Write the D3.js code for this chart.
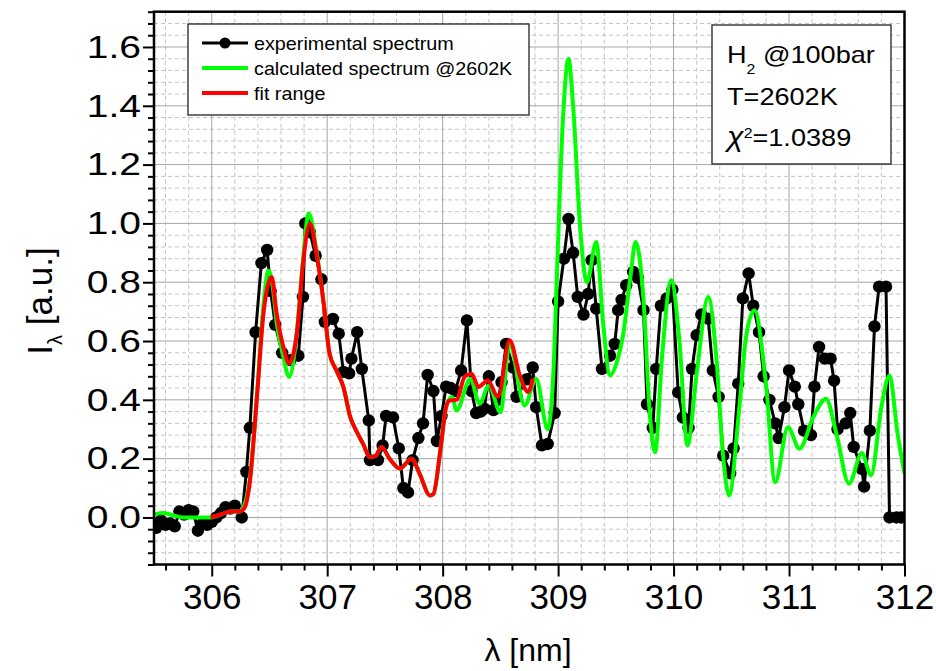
<!DOCTYPE html>
<html>
<head>
<meta charset="utf-8">
<script src="https://cdn.jsdelivr.net/npm/d3@7"></script>
<style>
body { margin: 0; background: #fff; }
text { font-family: "Liberation Sans", Arial, sans-serif; fill: #000; }
.narrow { font-family: "Liberation Sans Narrow", "Liberation Sans", Arial, sans-serif; }
</style>
</head>
<body>
<svg id="chart" width="936" height="671"></svg>
<script>
// experimental spectrum (black dots)
const expX = [305.52, 305.56, 305.60, 305.64, 305.68, 305.72, 305.76, 305.80, 305.84, 305.88,
    305.92, 305.96, 306.00, 306.04, 306.08, 306.12, 306.16, 306.20, 306.26, 306.30,
    306.33, 306.38, 306.43, 306.48, 306.51, 306.55, 306.61, 306.68, 306.75, 306.79,
    306.81, 306.85, 306.90, 306.95, 306.98, 307.05, 307.10, 307.14, 307.19, 307.21,
    307.26, 307.30, 307.36, 307.37, 307.44, 307.48, 307.51, 307.57, 307.62, 307.66,
    307.70, 307.74, 307.79, 307.83, 307.87, 307.92, 307.95, 307.99, 308.03, 308.07,
    308.11, 308.16, 308.21, 308.25, 308.29, 308.33, 308.36, 308.40, 308.44, 308.48,
    308.51, 308.55, 308.61, 308.64, 308.73, 308.78, 308.81, 308.86, 308.91, 308.97,
    309.00, 309.05, 309.09, 309.13, 309.17, 309.22, 309.26, 309.29, 309.33, 309.38,
    309.45, 309.49, 309.52, 309.55, 309.59, 309.65, 309.69, 309.74, 309.77, 309.82,
    309.85, 309.89, 309.94, 309.99, 310.04, 310.08, 310.13, 310.16, 310.20, 310.24,
    310.30, 310.34, 310.39, 310.43, 310.49, 310.52, 310.56, 310.60, 310.65, 310.69,
    310.74, 310.78, 310.83, 310.88, 310.91, 310.96, 311.00, 311.05, 311.08, 311.13,
    311.19, 311.22, 311.26, 311.31, 311.36, 311.39, 311.42, 311.49, 311.53, 311.56,
    311.63, 311.65, 311.70, 311.74, 311.78, 311.84, 311.87, 311.93, 311.97];
const expY = [-0.035, -0.01, -0.025, -0.02, -0.03, 0.02, 0.01, 0.025, 0.02, -0.045,
    -0.02, -0.025, -0.015, 0.0, 0.015, 0.035, 0.03, 0.04, 0.0, 0.155,
    0.305, 0.63, 0.865, 0.91, 0.77, 0.655, 0.56, 0.535, 0.55, 0.75,
    1.0, 0.97, 0.89, 0.81, 0.665, 0.675, 0.625, 0.495, 0.49, 0.54,
    0.63, 0.505, 0.33, 0.195, 0.195, 0.245, 0.345, 0.34, 0.235, 0.10,
    0.085, 0.195, 0.27, 0.32, 0.485, 0.43, 0.26, 0.345, 0.445, 0.44,
    0.43, 0.50, 0.67, 0.43, 0.355, 0.36, 0.37, 0.48, 0.365, 0.40,
    0.46, 0.59, 0.51, 0.41, 0.47, 0.51, 0.375, 0.245, 0.25, 0.355,
    0.735, 0.88, 1.015, 0.90, 0.75, 0.69, 0.76, 0.875, 0.71, 0.505,
    0.55, 0.59, 0.705, 0.74, 0.79, 0.835, 0.815, 0.705, 0.385, 0.305,
    0.505, 0.72, 0.745, 0.775, 0.425, 0.34, 0.305, 0.505, 0.62, 0.69,
    0.676, 0.50, 0.41, 0.21, 0.15, 0.235, 0.455, 0.745, 0.83, 0.72,
    0.63, 0.48, 0.40, 0.32, 0.27, 0.375, 0.50, 0.445, 0.385, 0.295,
    0.28, 0.445, 0.58, 0.54, 0.54, 0.465, 0.30, 0.32, 0.355, 0.24,
    0.165, 0.105, 0.295, 0.65, 0.785, 0.785, 0.0, 0.0, 0.0];

// calculated spectrum @2602K (green)
const calcX = [305.50, 305.58, 305.66, 305.75, 305.85, 305.98, 306.08, 306.16, 306.24, 306.28,
    306.33, 306.39, 306.45, 306.49, 306.53, 306.56, 306.62, 306.67, 306.74, 306.79,
    306.84, 306.91, 306.97, 307.02, 307.08, 307.14, 307.20, 307.25, 307.31, 307.37,
    307.42, 307.47, 307.54, 307.63, 307.73, 307.80, 307.89, 307.92, 307.98, 308.03,
    308.08, 308.12, 308.24, 308.32, 308.40, 308.50, 308.58, 308.71, 308.81, 308.91,
    308.96, 308.99, 309.04, 309.09, 309.13, 309.19, 309.25, 309.33, 309.39, 309.45,
    309.51, 309.56, 309.63, 309.67, 309.74, 309.79, 309.84, 309.90, 309.98, 310.05,
    310.12, 310.20, 310.30, 310.37, 310.43, 310.48, 310.57, 310.63, 310.70, 310.80,
    310.88, 310.99, 311.09, 311.21, 311.32, 311.41, 311.52, 311.63, 311.71, 311.80,
    311.87, 311.94, 312.00];
const calcY = [0.01, 0.015, 0.008, 0.0, 0.0, 0.0, 0.01, 0.02, 0.02, 0.04,
    0.13, 0.41, 0.73, 0.84, 0.78, 0.67, 0.546, 0.478, 0.64, 0.875,
    1.034, 0.90, 0.727, 0.558, 0.50, 0.444, 0.341, 0.296, 0.251, 0.205,
    0.21, 0.24, 0.20, 0.166, 0.20, 0.149, 0.075, 0.08, 0.228, 0.376,
    0.41, 0.364, 0.472, 0.387, 0.449, 0.358, 0.59, 0.381, 0.472, 0.30,
    0.50, 0.83, 1.34, 1.56, 1.40, 0.99, 0.80, 0.937, 0.66, 0.483,
    0.53, 0.614, 0.83, 0.937, 0.739, 0.376, 0.222, 0.546, 0.807, 0.603,
    0.245, 0.489, 0.75, 0.546, 0.205, 0.075, 0.376, 0.62, 0.705, 0.455,
    0.12, 0.307, 0.234, 0.341, 0.404, 0.285, 0.115, 0.219, 0.143, 0.376,
    0.483, 0.285, 0.149];

// fit range (red)
const fitX = [305.99, 306.08, 306.16, 306.24, 306.28, 306.33, 306.39, 306.45, 306.52, 306.56,
    306.62, 306.67, 306.74, 306.79, 306.85, 306.91, 306.97, 307.02, 307.08, 307.14,
    307.20, 307.25, 307.31, 307.37, 307.42, 307.47, 307.54, 307.63, 307.73, 307.80,
    307.89, 307.92, 307.98, 308.03, 308.06, 308.12, 308.19, 308.25, 308.31, 308.39,
    308.48, 308.58, 308.67, 308.74, 308.78];
const fitY = [0.0, 0.01, 0.02, 0.02, 0.03, 0.12, 0.40, 0.70, 0.818, 0.70,
    0.58, 0.524, 0.637, 0.86, 1.0, 0.89, 0.727, 0.558, 0.50, 0.444,
    0.341, 0.296, 0.251, 0.205, 0.21, 0.24, 0.20, 0.166, 0.20, 0.149,
    0.075, 0.08, 0.228, 0.376, 0.398, 0.40, 0.478, 0.489, 0.444, 0.466,
    0.41, 0.603, 0.48, 0.427, 0.472];

const xTicks = [306, 307, 308, 309, 310, 311, 312];
const yTicks = [0.0, 0.2, 0.4, 0.6, 0.8, 1.0, 1.2, 1.4, 1.6];
const legendLabels = ["experimental spectrum", "calculated spectrum @2602K", "fit range"];

const pLeft = 154, pRight = 904.5, pTop = 11.7, pBottom = 564.5;

var svg = d3.select("#chart");

var x = d3.scaleLinear().domain([305.5, 312]).range([pLeft, pRight]);
var y = d3.scaleLinear().domain([-0.16, 1.72]).range([pBottom, pTop]);

var xMinor = d3.range(0, 33).map(function(i) { return 305.6 + i * 0.2; })
    .filter(function(v) { return Math.abs(v - Math.round(v)) > 0.01 && v < 312.01; });
var yMinor = d3.range(0, 48).map(function(i) { return -0.16 + i * 0.04; })
    .filter(function(v) { return Math.abs(v / 0.2 - Math.round(v / 0.2)) > 0.01 && v < 1.721; });

// grid
var grid = svg.append("g");
grid.selectAll(".gxm").data(xMinor).enter().append("line")
    .attr("x1", d => x(d)).attr("x2", d => x(d)).attr("y1", pTop).attr("y2", pBottom)
    .attr("stroke", "#c4c4c4").attr("stroke-dasharray", "4,3");
grid.selectAll(".gym").data(yMinor).enter().append("line")
    .attr("x1", pLeft).attr("x2", pRight).attr("y1", d => y(d)).attr("y2", d => y(d))
    .attr("stroke", "#c4c4c4").attr("stroke-dasharray", "4,3");
grid.selectAll(".gx").data(xTicks.slice(0, -1)).enter().append("line")
    .attr("x1", d => x(d)).attr("x2", d => x(d)).attr("y1", pTop).attr("y2", pBottom)
    .attr("stroke", "#a6a6a6");
grid.selectAll(".gy").data(yTicks).enter().append("line")
    .attr("x1", pLeft).attr("x2", pRight).attr("y1", d => y(d)).attr("y2", d => y(d))
    .attr("stroke", "#a6a6a6");

// axes
var xAxis = svg.append("g").attr("transform", "translate(0," + pBottom + ")")
    .call(d3.axisBottom(x).tickValues(xTicks).tickSize(12).tickPadding(8).tickFormat(d3.format("d")));
var xAxisMinor = svg.append("g").attr("transform", "translate(0," + pBottom + ")")
    .call(d3.axisBottom(x).tickValues(xMinor).tickSize(6).tickFormat(""));
var yAxis = svg.append("g").attr("transform", "translate(" + pLeft + ",0)")
    .call(d3.axisLeft(y).tickValues(yTicks).tickSize(11).tickPadding(4).tickFormat(d3.format(".1f")));
var yAxisMinor = svg.append("g").attr("transform", "translate(" + pLeft + ",0)")
    .call(d3.axisLeft(y).tickValues(yMinor).tickSize(6).tickFormat(""));

[xAxis, xAxisMinor, yAxis, yAxisMinor].forEach(function(a) {
    a.select(".domain").remove();
    a.selectAll(".tick line").attr("stroke", "#000").attr("stroke-width", 2);
});
xAxis.selectAll("text").attr("class", "narrow").style("font-size", "35px").attr("fill", "#000")
    .attr("y", 20).attr("dy", "0.71em");
// y labels are drawn wider than the plain font
yAxis.selectAll("text").style("font-size", "32px").attr("fill", "#000")
    .attr("x", -13 / 1.22).attr("transform", "scale(1.22,1)");

// data
svg.append("clipPath").attr("id", "clip").append("rect")
    .attr("x", pLeft).attr("y", pTop).attr("width", pRight - pLeft).attr("height", pBottom - pTop);
var plot = svg.append("g").attr("clip-path", "url(#clip)");

var expData = expX.map((v, i) => [v, expY[i]]);
var calcData = calcX.map((v, i) => [v, calcY[i]]);
var fitData = fitX.map((v, i) => [v, fitY[i]]);

var straight = d3.line().x(d => x(d[0])).y(d => y(d[1]));
var smooth = d3.line().x(d => x(d[0])).y(d => y(d[1])).curve(d3.curveMonotoneX);

plot.append("path").datum(expData).attr("d", straight)
    .attr("fill", "none").attr("stroke", "#000").attr("stroke-width", 3);
plot.selectAll(".dot").data(expData).enter().append("circle")
    .attr("cx", d => x(d[0])).attr("cy", d => y(d[1])).attr("r", 6.2).attr("fill", "#000");
plot.append("path").datum(calcData).attr("d", smooth)
    .attr("fill", "none").attr("stroke", "#00ff00").attr("stroke-width", 4);
plot.append("path").datum(fitData).attr("d", smooth)
    .attr("fill", "none").attr("stroke", "#ff0000").attr("stroke-width", 4);

// frame
svg.append("rect").attr("x", pLeft).attr("y", pTop).attr("width", pRight - pLeft).attr("height", pBottom - pTop)
    .attr("fill", "none").attr("stroke", "#000").attr("stroke-width", 2.5);

// legend
var legend = svg.append("g");
legend.append("rect").attr("x", 188).attr("y", 24).attr("width", 341).attr("height", 91)
    .attr("fill", "#fff").attr("stroke", "#222").attr("stroke-width", 1.3);
var colors = ["#000", "#00ff00", "#ff0000"];
legendLabels.forEach(function(label, i) {
    var ly = 43 + i * 25;
    legend.append("line").attr("x1", 202).attr("x2", 248).attr("y1", ly).attr("y2", ly)
        .attr("stroke", colors[i]).attr("stroke-width", i == 0 ? 3 : 4);
    if (i == 0) legend.append("circle").attr("cx", 225).attr("cy", ly).attr("r", 5.5).attr("fill", "#000");
    legend.append("text").attr("transform", "translate(254," + ly + ") scale(1.04,1)")
        .attr("dy", "0.35em").style("font-size", "19px").text(label);
});

// annotation box
var note = svg.append("g");
note.append("rect").attr("x", 712).attr("y", 25).attr("width", 179).attr("height", 139)
    .attr("fill", "#fff").attr("stroke", "#222").attr("stroke-width", 1.3);
var t1 = note.append("text").attr("transform", "translate(727,63) scale(1.13,1)").style("font-size", "24px");
t1.append("tspan").text("H");
t1.append("tspan").attr("dy", 11).style("font-size", "14px").text("2");
t1.append("tspan").attr("dy", -11).text(" @100bar");
note.append("text").attr("transform", "translate(727,105) scale(1.13,1)").style("font-size", "24px").text("T=2602K");
var t3 = note.append("text").attr("transform", "translate(727,146) scale(1.13,1)").style("font-size", "24px");
t3.append("tspan").style("font-size", "27px").style("font-style", "italic").text("χ");
t3.append("tspan").attr("dy", -8).style("font-size", "14px").text("2");
t3.append("tspan").attr("dy", 8).text("=1.0389");

// axis titles
var yt = svg.append("text").attr("transform", "translate(52,301) rotate(-90)")
    .attr("text-anchor", "middle").style("font-size", "35px");
yt.append("tspan").text("I");
yt.append("tspan").attr("dy", 10).style("font-size", "20px").text("λ");
yt.append("tspan").attr("dy", -10).text(" [a.u.]");

svg.append("text").attr("class", "narrow").attr("x", 528).attr("y", 661)
    .attr("text-anchor", "middle").style("font-size", "32px").text("λ [nm]");
</script>
</body>
</html>
